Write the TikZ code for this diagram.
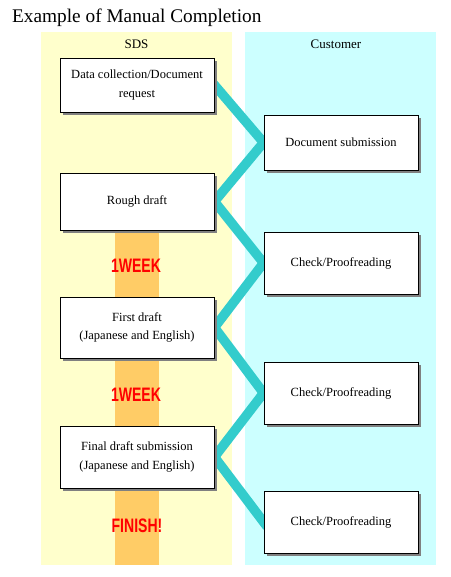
\documentclass[tikz,border=0pt]{standalone}
\usepackage{fontspec}
\setmainfont{Liberation Serif}
\newfontfamily\tagfont{Liberation Sans}
\usetikzlibrary{shadows,backgrounds}
\definecolor{sdsbg}{HTML}{FFFFCC}
\definecolor{custbg}{HTML}{CCFFFF}
\definecolor{weekbar}{HTML}{FFCC66}
\definecolor{linkteal}{HTML}{33CCCC}
\newcommand{\weektag}[1]{\scalebox{0.72}[1]{\tagfont\bfseries #1}}

\begin{document}
\begin{tikzpicture}[x=1pt,y=-1pt,
  stepbox/.style={draw,fill=white,line width=0.9pt,minimum width=154pt,inner sep=0pt,
    align=center,font=\fontsize{12.5}{18.5}\selectfont,
    drop shadow={shadow xshift=3pt,shadow yshift=-3pt,fill=black!50,opacity=1}},
  link/.style={linkteal,line width=9.5pt,shorten <=-6pt,shorten >=-6pt},
  tag/.style={text=red,font=\fontsize{19.5}{19.5}\selectfont},
  head/.style={font=\fontsize{13}{14}\selectfont}]
\useasboundingbox (0,0) rectangle (450,577);
\node[anchor=base west,inner sep=0pt,font=\fontsize{19.3}{21}\selectfont] (title) at (12,23) {Example of Manual Completion};
\node[head] (sds) at (136.5,44) {SDS};
\node[head] (cust) at (336,44) {Customer};
% SDS side
\node[stepbox,minimum height=54pt] (collect) at (137,85) {Data collection/Document\\request};
\node[stepbox,minimum height=57pt] (rough) at (137,201.5) {Rough draft};
\node[stepbox,minimum height=61pt] (first) at (137,327.5) {First draft\\(Japanese and English)};
\node[stepbox,minimum height=62pt] (final) at (137,457) {Final draft submission\\(Japanese and English)};
% customer side
\node[stepbox,minimum height=55pt] (submit) at (341,142.5) {Document submission};
\node[stepbox,minimum height=62pt] (check1) at (341,263) {Check/Proofreading};
\node[stepbox,minimum height=62pt] (check2) at (341,393) {Check/Proofreading};
\node[stepbox,minimum height=62pt] (check3) at (341,522) {Check/Proofreading};
% durations
\node[tag] (week1) at (136,266) {\weektag{1WEEK}};
\node[tag] (week2) at (136,395) {\weektag{1WEEK}};
\node[tag] (finish) at (137,526) {\weektag{FINISH!}};
\begin{pgfonlayer}{background}
\fill[sdsbg] (41,32) rectangle (232,565);
\fill[custbg] (245,32) rectangle (436,565);
\fill[weekbar] (115,215) rectangle (159,565);
\draw[link] (collect.east) -- (submit.west);
\draw[link] (rough.east) -- (submit.west);
\draw[link] (rough.east) -- (check1.west);
\draw[link] (first.east) -- (check1.west);
\draw[link] (first.east) -- (check2.west);
\draw[link] (final.east) -- (check2.west);
\draw[link] (final.east) -- (check3.west);
\end{pgfonlayer}
\end{tikzpicture}
\end{document}
